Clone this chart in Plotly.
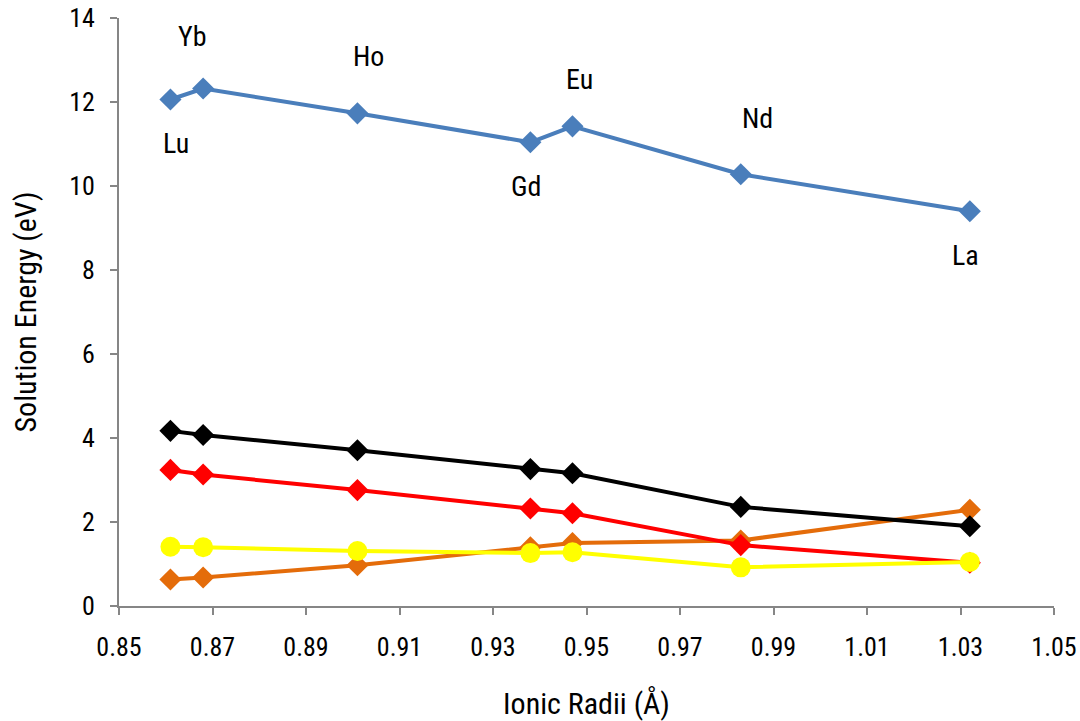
import plotly.graph_objects as go

elements = ["Lu", "Yb", "Ho", "Gd", "Eu", "Nd", "La"]
ionic_radii = [0.861, 0.868, 0.901, 0.938, 0.947, 0.983, 1.032]
blue_vals = [12.06, 12.32, 11.73, 11.04, 11.42, 10.28, 9.40]
black_vals = [4.17, 4.07, 3.71, 3.26, 3.16, 2.36, 1.90]
red_vals = [3.24, 3.13, 2.76, 2.32, 2.21, 1.45, 1.03]
orange_vals = [0.63, 0.68, 0.97, 1.40, 1.50, 1.56, 2.29]
yellow_vals = [1.41, 1.40, 1.31, 1.26, 1.28, 0.92, 1.05]

# label offsets (pixels) relative to the blue points
label_shift = {"Lu": (6, -44), "Yb": (-11, 52), "Ho": (11, 57), "Gd": (-4, -44),
               "Eu": (7, 47), "Nd": (17, 56), "La": (-4, -44)}

font_family = "Liberation Sans Narrow, Arial Narrow, Roboto Condensed, Liberation Sans, sans-serif"

fig = go.Figure()

def add(vals, color, symbol, size):
    fig.add_trace(go.Scatter(
        x=ionic_radii, y=vals, mode="lines+markers",
        line=dict(color=color, width=4),
        marker=dict(symbol=symbol, size=size, color=color),
        showlegend=False, cliponaxis=False))

add(blue_vals, "#4a7ebb", "diamond", 17)
add(orange_vals, "#e46c0a", "diamond", 17)
add(black_vals, "#000000", "diamond", 17)
add(red_vals, "#ff0000", "diamond", 17)
add(yellow_vals, "#ffff00", "circle", 20)

for el, x, y in zip(elements, ionic_radii, blue_vals):
    dx, dy = label_shift[el]
    fig.add_annotation(x=x, y=y, text=el, showarrow=False,
                       xshift=dx, yshift=dy,
                       font=dict(size=28, color="#000000", family=font_family))

axis_common = dict(showline=True, linecolor="#868686", linewidth=2,
                   ticks="outside", tickcolor="#868686", ticklen=7, tickwidth=2,
                   showgrid=False, zeroline=False, automargin=False,
                   tickfont=dict(size=26, color="#000000", family=font_family))

fig.update_xaxes(range=[0.85, 1.05], tick0=0.85, dtick=0.02, tickformat=".2f",
                 ticklabelstandoff=10,
                 title=dict(text="Ionic Radii (Å)", font=dict(size=30, family=font_family, color="#000000"),
                            standoff=34),
                 **axis_common)
fig.update_yaxes(range=[0, 14], dtick=2, ticklabelstandoff=10,
                 title=dict(text="Solution Energy (eV)", font=dict(size=30, family=font_family, color="#000000"),
                            standoff=24),
                 **axis_common)

fig.update_layout(width=1080, height=721,
                  margin=dict(l=119, r=26, t=18, b=115),
                  plot_bgcolor="white", paper_bgcolor="white",
                  font=dict(family=font_family))

fig.write_html("out.html")
